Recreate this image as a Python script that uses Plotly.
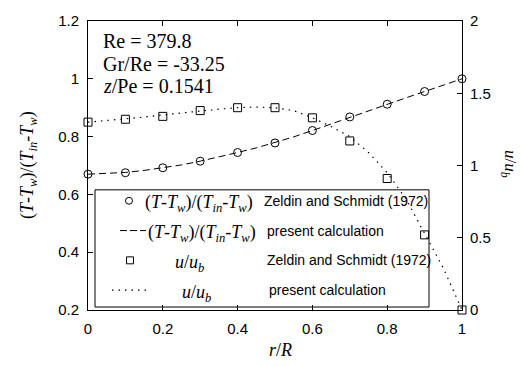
import plotly.graph_objects as go

# ---- data ----
r_data = [0.0, 0.1, 0.2, 0.3, 0.4, 0.5, 0.6, 0.7, 0.8, 0.9, 1.0]
temp_data = [0.670, 0.675, 0.692, 0.715, 0.745, 0.778, 0.821, 0.868, 0.912, 0.956, 1.0]
vel_data = [1.30, 1.32, 1.34, 1.38, 1.40, 1.40, 1.33, 1.17, 0.91, 0.52, 0.0]

r_calc = [0.0, 0.05, 0.1, 0.15, 0.2, 0.25, 0.3, 0.35, 0.4, 0.45, 0.5,
          0.55, 0.6, 0.65, 0.7, 0.75, 0.8, 0.85, 0.9, 0.95, 1.0]
temp_calc = [0.670, 0.672, 0.676, 0.683, 0.692, 0.702, 0.715, 0.729, 0.745, 0.761, 0.779,
             0.799, 0.821, 0.844, 0.867, 0.890, 0.912, 0.934, 0.956, 0.978, 1.0]
vel_calc = [1.30, 1.31, 1.32, 1.335, 1.35, 1.365, 1.38, 1.39, 1.40, 1.405, 1.40,
            1.38, 1.33, 1.27, 1.20, 1.09, 0.95, 0.77, 0.53, 0.29, 0.0]

x_ticks = [0, 0.2, 0.4, 0.6, 0.8, 1.0]
x_labels = ["0", "0.2", "0.4", "0.6", "0.8", "1"]
y_ticks = [0.2, 0.4, 0.6, 0.8, 1.0, 1.2]
y_labels = ["0.2", "0.4", "0.6", "0.8", "1", "1.2"]
y2_ticks = [0, 0.5, 1.0, 1.5, 2.0]
y2_labels = ["0", "0.5", "1", "1.5", "2"]

params = ["Re = 379.8", "Gr/Re = -33.25", "<i>z</i>/Pe = 0.1541"]
legend_math = ["(<i>T</i>-<i>T</i><sub><i>w</i></sub>)/(<i>T</i><sub><i>in</i></sub>-<i>T</i><sub><i>w</i></sub>)",
               "(<i>T</i>-<i>T</i><sub><i>w</i></sub>)/(<i>T</i><sub><i>in</i></sub>-<i>T</i><sub><i>w</i></sub>)",
               "<i>u</i>/<i>u</i><sub><i>b</i></sub>",
               "<i>u</i>/<i>u</i><sub><i>b</i></sub>"]
legend_desc = ["Zeldin and Schmidt (1972)", "present calculation",
               "Zeldin and Schmidt (1972)", "present calculation"]

# ---- layout geometry (pixels) ----
W, H = 523, 366
L, R, T, B = 88, 462, 19, 310
PW, PH = R - L, B - T


def px(x):
    return (x - L) / PW


def py(y):
    return (B - y) / PH


SERIF = "Liberation Serif"
SANS = "Liberation Sans"

fig = go.Figure()
fig.add_trace(go.Scatter(x=r_calc, y=temp_calc, mode="lines",
                         line=dict(color="black", width=1, dash="7px,4px"),
                         cliponaxis=False, showlegend=False))
fig.add_trace(go.Scatter(x=r_data, y=temp_data, mode="markers",
                         marker=dict(symbol="circle-open", size=8, color="black", line=dict(width=1)),
                         cliponaxis=False, showlegend=False))
fig.add_trace(go.Scatter(x=r_calc, y=vel_calc, mode="lines", yaxis="y2",
                         line=dict(color="black", width=1.2, dash="1.5px,5px"),
                         cliponaxis=False, showlegend=False))
fig.add_trace(go.Scatter(x=r_data, y=vel_data, mode="markers", yaxis="y2",
                         marker=dict(symbol="square-open", size=8, color="black", line=dict(width=1)),
                         cliponaxis=False, showlegend=False))

shapes = []
annotations = []

# legend box (transparent, curves show through as in the original)
shapes.append(dict(type="rect", xref="paper", yref="paper",
                   x0=px(95), x1=px(429), y0=py(307), y1=py(189),
                   line=dict(color="black", width=1), fillcolor="rgba(0,0,0,0)", layer="below"))

rows_y = [200, 230, 260, 290]
# row symbols
shapes.append(dict(type="circle", xref="paper", yref="paper",
                   x0=px(125.5), x1=px(132.5), y0=py(rows_y[0] + 3.5), y1=py(rows_y[0] - 3.5),
                   line=dict(color="black", width=1), layer="above"))
shapes.append(dict(type="line", xref="paper", yref="paper",
                   x0=px(120), x1=px(146), y0=py(rows_y[1]), y1=py(rows_y[1]),
                   line=dict(color="black", width=1, dash="7px,3px"), layer="above"))
shapes.append(dict(type="rect", xref="paper", yref="paper",
                   x0=px(126.5), x1=px(133.5), y0=py(rows_y[2] + 3.5), y1=py(rows_y[2] - 3.5),
                   line=dict(color="black", width=1), layer="above"))
shapes.append(dict(type="line", xref="paper", yref="paper",
                   x0=px(112), x1=px(150), y0=py(rows_y[3]), y1=py(rows_y[3]),
                   line=dict(color="black", width=1.2, dash="1.5px,5px"), layer="above"))

math_x = [143, 146, 173, 180]
desc_x = [262, 265, 265, 267]
for i in range(4):
    annotations.append(dict(xref="paper", yref="paper", x=px(math_x[i]), y=py(rows_y[i] + 3),
                            text=legend_math[i], showarrow=False, xanchor="left", yanchor="middle",
                            font=dict(family=SERIF, size=18, color="black")))
    annotations.append(dict(xref="paper", yref="paper", x=px(desc_x[i]), y=py(rows_y[i]),
                            text=legend_desc[i], showarrow=False, xanchor="left", yanchor="middle",
                            font=dict(family=SANS, size=14, color="black")))

# parameter text
param_y = [39, 62, 84]
for i, t in enumerate(params):
    annotations.append(dict(xref="paper", yref="paper", x=px(101), y=py(param_y[i]),
                            text=t, showarrow=False, xanchor="left", yanchor="middle",
                            font=dict(family=SERIF, size=20, color="black")))

# axis titles
annotations.append(dict(xref="paper", yref="paper", x=px(28), y=py(164),
                        text="(<i>T</i>-<i>T</i><sub><i>w</i></sub>)/(<i>T</i><sub><i>in</i></sub>-<i>T</i><sub><i>w</i></sub>)",
                        textangle=-90, showarrow=False, xanchor="center", yanchor="middle",
                        font=dict(family=SERIF, size=18, color="black")))
annotations.append(dict(xref="paper", yref="paper", x=px(509), y=py(163),
                        text="<i>u</i>/<i>u</i><sub><i>b</i></sub>",
                        textangle=90, showarrow=False, xanchor="center", yanchor="middle",
                        font=dict(family=SERIF, size=17, color="black")))
annotations.append(dict(xref="paper", yref="paper", x=px(280), y=py(350),
                        text="<i>r</i>/<i>R</i>",
                        showarrow=False, xanchor="center", yanchor="middle",
                        font=dict(family=SERIF, size=18, color="black")))

axis_common = dict(showgrid=False, zeroline=False, showline=True, linecolor="black", linewidth=1,
                   ticks="inside", ticklen=5, tickcolor="black", tickwidth=1,
                   tickfont=dict(family=SANS, size=15, color="black"))

fig.update_layout(
    width=W, height=H,
    margin=dict(l=L, r=W - R, t=T, b=H - B, pad=0),
    paper_bgcolor="white", plot_bgcolor="white",
    showlegend=False,
    xaxis=dict(range=[0, 1], tickvals=x_ticks, ticktext=x_labels, mirror="ticks",
               ticklabelstandoff=5, **axis_common),
    yaxis=dict(range=[0.2, 1.2], tickvals=y_ticks, ticktext=y_labels,
               ticklabelstandoff=5, **axis_common),
    yaxis2=dict(range=[0, 2], tickvals=y2_ticks, ticktext=y2_labels, overlaying="y", side="right",
                ticklabelstandoff=4, **axis_common),
    shapes=shapes,
    annotations=annotations,
)

fig.write_html("out.html")
